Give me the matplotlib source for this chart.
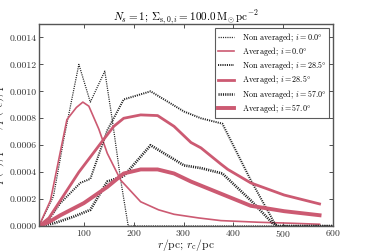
import matplotlib
matplotlib.use("Agg")
import matplotlib.pyplot as plt

plt.rcParams['mathtext.fontset'] = 'cm'
plt.rcParams['font.family'] = 'serif'
plt.rcParams['font.serif'] = ['cmr10', 'DejaVu Serif']
plt.rcParams['axes.formatter.use_mathtext'] = True
plt.rcParams['lines.scale_dashes'] = False

# Non averaged, i = 0.0
x_na0 = [10, 39, 60, 90, 113, 142, 157, 174, 189, 250, 400, 600]
y_na0 = [0.0, 0.00022, 0.00065, 0.00120, 0.00092, 0.00115, 0.00079, 0.00034, 0.0, 0.0, 0.0, 0.0]
# Averaged, i = 0.0
x_a0 = [10, 33, 50, 66, 85, 98, 110, 130, 147, 174, 214, 250, 281, 330, 375, 450, 520, 573]
y_a0 = [0.0, 0.00019, 0.00050, 0.00079, 0.00088, 0.00092, 0.00089, 0.00072, 0.00054, 0.00034,
        0.00018, 0.00012, 0.000087, 0.00006, 0.00004, 0.000028, 0.00002, 0.000013]
# Non averaged, i = 28.5
x_na28 = [10, 30, 53, 93, 113, 147, 180, 234, 301, 335, 378, 435, 486, 520, 600]
y_na28 = [0.0, 0.00005, 0.00017, 0.00032, 0.00035, 0.00071, 0.00094, 0.00100, 0.00085, 0.00080,
          0.00076, 0.00034, 0.0, 0.0, 0.0]
# Averaged, i = 28.5
x_a28 = [10, 30, 53, 90, 134, 160, 180, 214, 248, 281, 315, 335, 375, 389, 435, 502, 573]
y_a28 = [0.0, 0.00006, 0.00019, 0.00040, 0.000615, 0.00074, 0.00080, 0.000825, 0.00082, 0.00074,
         0.00062, 0.00058, 0.00046, 0.00042, 0.00032, 0.00023, 0.000164]
# Non averaged, i = 57.0
x_na57 = [10, 40, 80, 113, 147, 180, 234, 301, 335, 378, 435, 479, 490, 600]
y_na57 = [0.0, 0.00002, 0.00007, 0.00012, 0.00033, 0.00037, 0.00060, 0.00045, 0.00043, 0.00039,
          0.00019, 0.00002, 0.0, 0.0]
# Averaged, i = 57.0
x_a57 = [10, 30, 53, 100, 147, 180, 214, 248, 281, 315, 335, 375, 435, 502, 573]
y_a57 = [0.0, 0.00003, 0.00008, 0.00017, 0.00029, 0.00039, 0.00042, 0.00042, 0.00039, 0.00033,
         0.00030, 0.00024, 0.00015, 0.00011, 0.00008]

red = '#cc5a72'
dot = (0, (0.8, 0.8))

fig = plt.figure(figsize=(3.7, 2.52), dpi=100)
ax = fig.add_axes([39/370, 1 - 226/252, (333-39)/370, (226-24)/252])

ax.plot(x_na0, y_na0, ls=dot, color='#222222', lw=0.9, label=r'Non averaged; $i=0.0\degree$')
ax.plot(x_a0, y_a0, ls='-', color=red, lw=1.2, label=r'Averaged; $i=0.0\degree$')
ax.plot(x_na28, y_na28, ls=dot, color='#222222', lw=1.4, label=r'Non averaged; $i=28.5\degree$')
ax.plot(x_a28, y_a28, ls='-', color=red, lw=2.0, label=r'Averaged; $i=28.5\degree$')
ax.plot(x_na57, y_na57, ls=dot, color='#222222', lw=1.9, label=r'Non averaged; $i=57.0\degree$')
ax.plot(x_a57, y_a57, ls='-', color=red, lw=2.8, label=r'Averaged; $i=57.0\degree$')

ax.set_xlim(10, 600)
ax.set_ylim(0, 0.0015)
ax.set_xticks([100, 200, 300, 400, 500, 600])
ax.set_yticks([0, 0.0002, 0.0004, 0.0006, 0.0008, 0.0010, 0.0012, 0.0014])
ax.set_yticklabels(['%.4f' % v for v in [0, 0.0002, 0.0004, 0.0006, 0.0008, 0.0010, 0.0012, 0.0014]])
ax.tick_params(direction='in', top=True, right=True, labelsize=7, length=3, width=0.6, pad=1.5,
               colors='#333333', labelcolor='#333333')
for s in ax.spines.values():
    s.set_color('#555555')
    s.set_linewidth(1.0)

ax.set_xlabel(r'$r/\mathrm{pc};\, r_{\mathrm{c}}/\mathrm{pc}$', fontsize=8.3, labelpad=-1.5, color='#222222')
ax.set_ylabel(r'$p(r)/\mathrm{pc}^{-1};\, p(r_{\mathrm{c}})/\mathrm{pc}^{-1}$', fontsize=9, labelpad=3, color='#222222')
ax.set_title(r'$N_s=1;\, \Sigma_{\mathrm{s},0,i}=100.0\,\mathrm{M}_{\odot}\,\mathrm{pc}^{-2}$', fontsize=8, pad=3)

leg = ax.legend(loc='upper right', fontsize=5.8, handlelength=2.0, frameon=True, fancybox=False,
                borderpad=0.35, labelspacing=0.15, handletextpad=1.0, borderaxespad=0.5)
leg.get_frame().set_edgecolor('#333333')
leg.get_frame().set_linewidth(0.8)

fig.savefig('out.png', dpi=100)
